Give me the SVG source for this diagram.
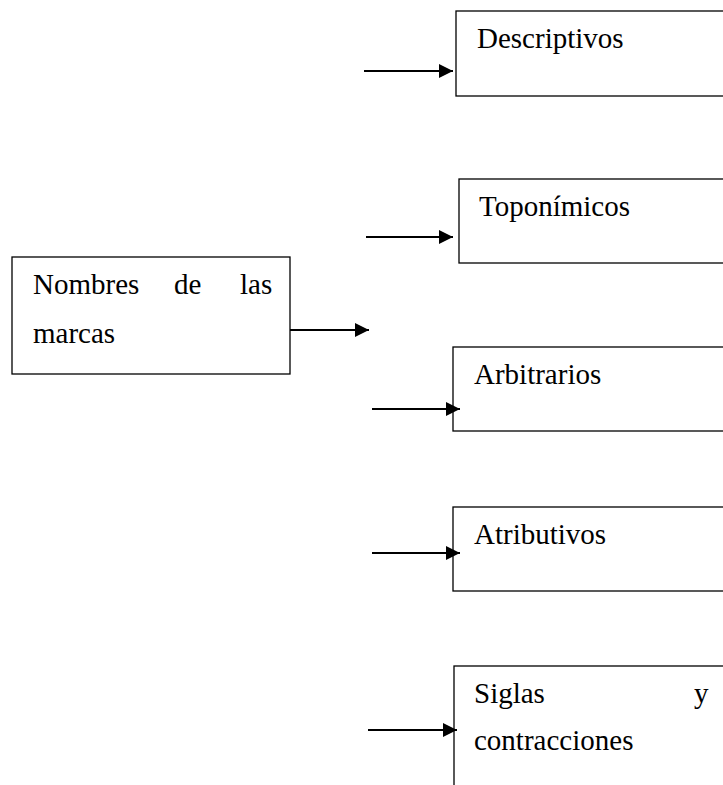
<svg xmlns="http://www.w3.org/2000/svg" width="723" height="785" viewBox="0 0 723 785">
  <style>
    .box { fill: #ffffff; stroke: #000000; stroke-width: 1.3; }
    .lbl { font-family: "Liberation Serif", "Times New Roman", serif; font-size: 29px; fill: #000000; }
    .wire { stroke: #000000; stroke-width: 2; fill: none; }
  </style>
  <defs>
    <marker id="arrow" viewBox="0 0 10 10" refX="10" refY="5" markerWidth="7.5" markerHeight="7" orient="auto" markerUnits="strokeWidth">
      <path d="M0,0 L10,5 L0,10 Z" fill="#000000"/>
    </marker>
  </defs>
  <rect width="723" height="785" fill="#ffffff"/>

  <g id="node-nombres">
    <rect class="box" x="12" y="257" width="278" height="117"/>
    <text class="lbl" x="33" y="294">Nombres</text>
    <text class="lbl" x="174" y="294">de</text>
    <text class="lbl" x="240" y="294">las</text>
    <text class="lbl" x="33" y="343">marcas</text>
  </g>

  <g id="node-descriptivos">
    <rect class="box" x="456" y="11" width="280" height="85"/>
    <text class="lbl" x="477" y="48">Descriptivos</text>
  </g>

  <g id="node-toponimicos">
    <rect class="box" x="459" y="179" width="280" height="84"/>
    <text class="lbl" x="479" y="216">Toponímicos</text>
  </g>

  <g id="node-arbitrarios">
    <rect class="box" x="453" y="347" width="280" height="84"/>
    <text class="lbl" x="474" y="384">Arbitrarios</text>
  </g>

  <g id="node-atributivos">
    <rect class="box" x="453" y="507" width="280" height="84"/>
    <text class="lbl" x="474" y="544">Atributivos</text>
  </g>

  <g id="node-siglas">
    <rect class="box" x="454" y="666" width="280" height="140"/>
    <text class="lbl" x="474" y="703">Siglas</text>
    <text class="lbl" x="694" y="703">y</text>
    <text class="lbl" x="474" y="750">contracciones</text>
  </g>

  <g id="connectors">
    <line class="wire" x1="290" y1="330" x2="369" y2="330" marker-end="url(#arrow)"/>
    <line class="wire" x1="364" y1="71" x2="453" y2="71" marker-end="url(#arrow)"/>
    <line class="wire" x1="366" y1="237" x2="453" y2="237" marker-end="url(#arrow)"/>
    <line class="wire" x1="372" y1="409" x2="460" y2="409" marker-end="url(#arrow)"/>
    <line class="wire" x1="372" y1="553" x2="460" y2="553" marker-end="url(#arrow)"/>
    <line class="wire" x1="368" y1="730" x2="457" y2="730" marker-end="url(#arrow)"/>
  </g>
</svg>
